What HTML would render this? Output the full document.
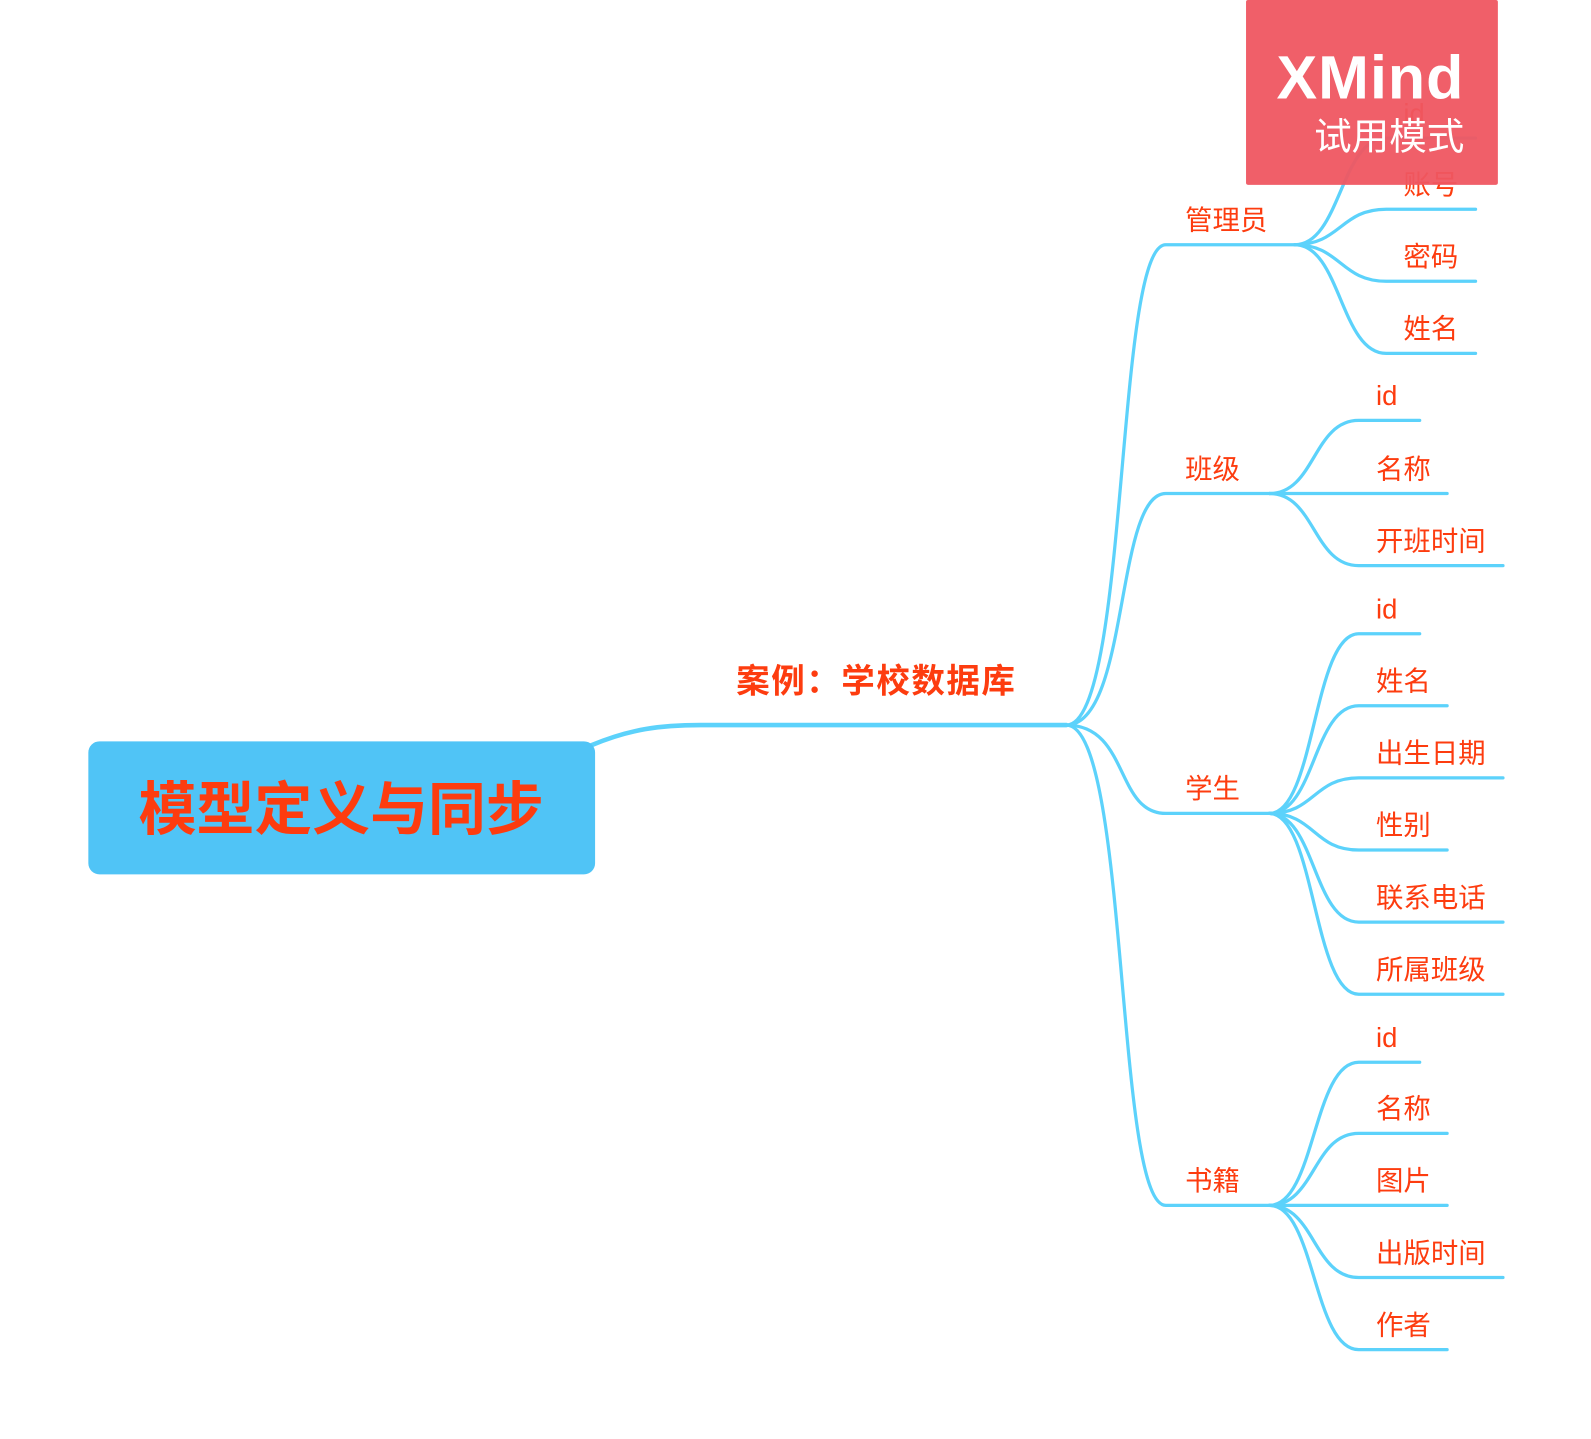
<!DOCTYPE html>
<html><head><meta charset="utf-8"><style>
html,body{margin:0;padding:0;background:#fff;width:1591px;height:1439px;overflow:hidden}
text{font-family:"Liberation Sans","Noto Sans CJK SC",sans-serif;fill:#fd3c0f}
</style></head><body>
<svg id="map" width="1591" height="1439" viewBox="0 0 1566.7 1417" xmlns="http://www.w3.org/2000/svg">
<g id="lines" fill="none" stroke="#5cd2fb" stroke-width="3.2" stroke-linecap="round"></g>
<g id="labels"></g>
<rect x="87" y="730" width="499" height="131" rx="11" fill="#50c4f6"/>
<text x="336" y="817" text-anchor="middle" font-size="57" font-weight="bold">模型定义与同步</text>
<text x="725" y="682" font-size="33" font-weight="bold" letter-spacing="1.5">案例：学校数据库</text>
<g>
<rect x="1227" y="0" width="248" height="182" rx="2" fill="#ef5661" opacity="0.95"/>
<text x="1442" y="97" text-anchor="end" font-size="60" font-weight="bold" letter-spacing="1" style="fill:#fff">XMind</text>
<text x="1442" y="147" text-anchor="end" font-size="37" style="fill:#fff">试用模式</text>
</g>
</svg>
<script>
const branches=['管理员','班级','学生','书籍'];
const branchY=[241,486,801,1187];
const leaves=[['id','账号','密码','姓名'],['id','名称','开班时间'],['id','姓名','出生日期','性别','联系电话','所属班级'],['id','名称','图片','出版时间','作者']];
const leafY=[[136,206,277,348],[414,486,557],[624,695,766,837,908,979],[1046,1116,1187,1258,1329]];
const NS='http://www.w3.org/2000/svg';
const L=document.getElementById('lines'),T=document.getElementById('labels');
function path(d,w,name){const p=document.createElementNS(NS,'path');p.setAttribute('d',d);if(w)p.setAttribute('stroke-width',w);


L.appendChild(p);}
function text(x,y,s,name){const t=document.createElementNS(NS,'text');t.setAttribute('x',x);t.setAttribute('y',y);t.setAttribute('font-size','27');t.textContent=s;


T.appendChild(t);}
path('M582 734 C620 718 650 714 690 714 L1050 714',4.5,'main-connector');
function leafEnd(s,lx){const n=[...s].length; if(s==='id')return lx+60; return lx+(n<=2?87:142);}
branches.forEach((b,i)=>{
  const y=branchY[i];const ex=i==0?1275:1250;
  path(`M1050 714 C1112 714 1098 ${y} 1148 ${y} L${ex} ${y}`,null,'branch-connector-'+i);
  text(1167,y-15,b,'branch-label-'+i);
  const lx=i==0?1365:1338;
  leaves[i].forEach((s,j)=>{
    const ly=leafY[i][j];
    const end=i==0?1453:leafEnd(s,lx);
    path(`M${ex} ${y} C${ex+45} ${y} ${lx-45} ${ly} ${lx} ${ly} L${end} ${ly}`,null,'leaf-connector-'+i+'-'+j);
    text(lx+17,ly-15,s,'leaf-label-'+i+'-'+j);
  });
});
</script>
</body></html>
